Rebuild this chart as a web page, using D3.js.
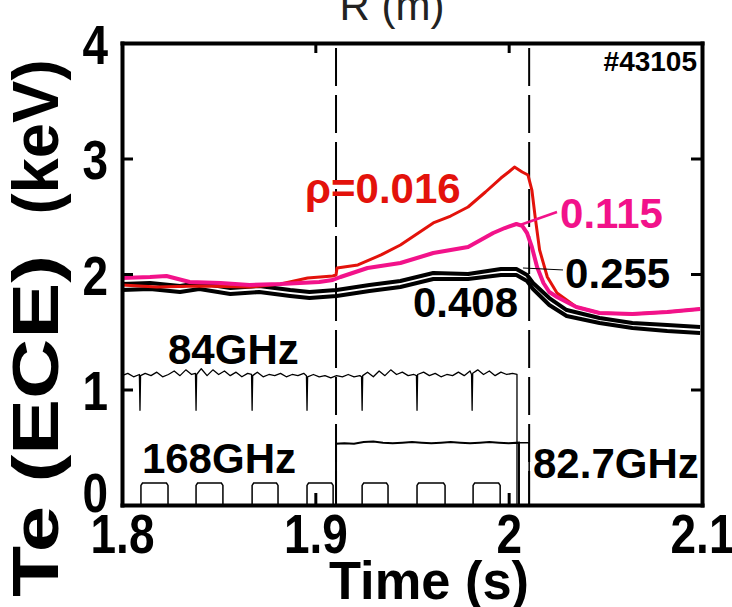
<!DOCTYPE html>
<html>
<head>
<meta charset="utf-8">
<script src="https://cdn.jsdelivr.net/npm/d3@7/dist/d3.min.js"></script>
<style>
    body { margin: 0; background: #fff; }
    svg text { font-family: "Liberation Sans", Arial, Helvetica, sans-serif; font-weight: bold; }
</style>
</head>
<body>
<div id="chart"></div>
<script>

// ---- data: [time (s), Te (keV)] ----

// rho = 0.016 (red)
let rho016 = [[1.800,1.905],[1.818,1.887],[1.840,1.896],[1.866,1.887],[1.882,1.913],[1.896,1.965],
    [1.909,1.983],[1.9107,1.991],[1.9112,2.052],[1.922,2.078],[1.934,2.165],[1.944,2.251],[1.961,2.442],
    [1.970,2.502],[1.979,2.580],[1.988,2.710],[1.996,2.831],[2.000,2.883],[2.003,2.926],[2.007,2.883],
    [2.010,2.857],[2.012,2.727],[2.0137,2.494],[2.016,2.208],[2.020,1.974],[2.025,1.835],[2.035,1.714],
    [2.047,1.662],[2.064,1.654],[2.082,1.671],[2.099,1.697]];

// rho = 0.115 (pink)
let rho115 = [[1.800,1.965],[1.8145,1.974],[1.823,1.983],[1.835,1.931],[1.851,1.922],[1.866,1.905],
    [1.882,1.913],[1.892,1.922],[1.902,1.931],[1.909,1.948],[1.913,1.974],[1.927,2.052],[1.944,2.095],
    [1.961,2.182],[1.979,2.234],[1.992,2.355],[1.998,2.398],[2.004,2.433],[2.007,2.416],[2.0095,2.355],
    [2.012,2.234],[2.0147,2.061],[2.018,1.922],[2.021,1.844],[2.025,1.801],[2.030,1.758],[2.035,1.714],
    [2.047,1.662],[2.064,1.654],[2.082,1.671],[2.099,1.697]];

// rho = 0.255 (black, upper)
let rho255 = [[1.800,1.913],[1.8145,1.922],[1.830,1.896],[1.840,1.922],[1.856,1.879],[1.871,1.896],
    [1.887,1.861],[1.897,1.844],[1.911,1.861],[1.928,1.905],[1.944,1.939],[1.961,2.009],[1.979,2.000],
    [1.996,2.043],[2.004,2.043],[2.0095,1.991],[2.0126,1.922],[2.021,1.792],[2.030,1.688],[2.047,1.619],
    [2.064,1.576],[2.082,1.558],[2.099,1.541]];

// rho = 0.408 (black, lower)
let rho408 = [[1.800,1.861],[1.8145,1.870],[1.830,1.844],[1.840,1.870],[1.856,1.827],[1.871,1.844],
    [1.887,1.810],[1.897,1.792],[1.911,1.810],[1.928,1.853],[1.944,1.887],[1.961,1.957],[1.979,1.957],
    [1.996,1.991],[2.004,1.991],[2.0095,1.939],[2.0126,1.870],[2.021,1.732],[2.030,1.636],[2.047,1.576],
    [2.064,1.532],[2.082,1.506],[2.099,1.489]];

// 84GHz gyrotron trace, with the short dips
let trace84 = [[1.800,1.12],[1.803,1.14],[1.806,1.11],[1.809,1.13],
    [1.8090,1.12],[1.8093,0.82],[1.8096,1.12],
    [1.812,1.14],[1.815,1.12],[1.818,1.15],[1.821,1.11],[1.824,1.13],[1.827,1.16],[1.830,1.12],[1.833,1.17],[1.836,1.13],
    [1.8380,1.14],[1.8383,0.82],[1.8386,1.13],
    [1.841,1.18],[1.844,1.12],[1.847,1.17],[1.850,1.13],[1.853,1.16],[1.856,1.12],[1.859,1.15],[1.862,1.11],[1.865,1.14],
    [1.8670,1.13],[1.8673,0.82],[1.8676,1.12],
    [1.870,1.15],[1.873,1.11],[1.876,1.13],[1.879,1.12],[1.882,1.14],[1.885,1.11],[1.888,1.13],[1.891,1.12],[1.894,1.14],
    [1.8954,1.12],[1.8957,0.82],[1.8960,1.11],
    [1.899,1.13],[1.902,1.11],[1.905,1.12],[1.908,1.10],[1.911,1.12],[1.914,1.11],[1.917,1.13],[1.920,1.11],[1.923,1.12],
    [1.9239,1.11],[1.9242,0.82],[1.9245,1.12],
    [1.927,1.15],[1.930,1.11],[1.933,1.16],[1.936,1.12],[1.939,1.17],[1.942,1.13],[1.945,1.15],[1.948,1.12],[1.951,1.13],
    [1.9523,1.12],[1.9526,0.82],[1.9529,1.13],
    [1.956,1.15],[1.959,1.12],[1.962,1.14],[1.965,1.11],[1.968,1.13],[1.971,1.12],[1.974,1.15],[1.977,1.12],[1.980,1.16],
    [1.9808,1.13],[1.9811,0.82],[1.9814,1.14],
    [1.984,1.17],[1.987,1.13],[1.990,1.16],[1.993,1.12],[1.996,1.15],[1.999,1.13],[2.002,1.14],[2.0043,1.13],[2.0043,0.0]];

// step power trace switched on at 1.91 s
let traceStep = [[1.800,0],[1.9107,0],[1.9107,0.530],[1.915,0.535],[1.920,0.530],[1.925,0.545],[1.930,0.550],
    [1.935,0.540],[1.940,0.535],[1.945,0.540],[1.950,0.545],[1.955,0.540],[1.960,0.535],[1.965,0.540],
    [1.970,0.545],[1.975,0.540],[1.980,0.535],[1.985,0.540],[1.990,0.545],[1.995,0.540],[2.000,0.535],
    [2.0053,0.540],[2.0053,0]];

// 82.7GHz trace
let trace827 = [[2.0053,0],[2.0053,0.54],[2.0106,0.54],[2.0106,0],[2.100,0]];

// 168GHz modulation pulses
let pulseOn = [1.8098, 1.8383, 1.8673, 1.8957, 1.9242, 1.9526, 1.9816];
let pulseOff = [1.8238, 1.8522, 1.8807, 1.9092, 1.9376, 1.9671, 1.9956];
let pulseLevel = [0.19, 0.19, 0.19, 0.19, 0.19, 0.19, 0.19];

// dashed markers
let markerTimes = [1.9107, 2.0106];

// tick values
let xTicks = [1.8, 1.9, 2.0, 2.1];
let yTicks = [0, 1, 2, 3, 4];

// ---- chart ----
let margin = {top: 43, right: 30, bottom: 102, left: 122};
let width = 732 - margin.left - margin.right;
let height = 607 - margin.top - margin.bottom;

let svg = d3.select("#chart").append("svg")
    .attr("width", 732)
    .attr("height", 607);

let g = svg.append("g")
    .attr("transform", `translate(${margin.left}, ${margin.top})`);

let x = d3.scaleLinear().domain([1.8, 2.1]).range([0, width]);
let y = d3.scaleLinear().domain([0, 4]).range([height, 0]);

let line = d3.line()
    .x(d => x(d[0]))
    .y(d => y(d[1]));

// build the pulse train from on/off times
let pulses = [[1.800, 0]];
pulseOn.forEach((t, i) => {
    pulses.push([t, 0], [t, pulseLevel[i] - 0.02], [t + 0.0008, pulseLevel[i]],
        [pulseOff[i] - 0.0008, pulseLevel[i]], [pulseOff[i], pulseLevel[i] - 0.02], [pulseOff[i], 0]);
});
pulses.push([2.0053, 0]);

// dashed vertical markers
g.selectAll(".marker")
    .data(markerTimes)
    .enter().append("line")
    .attr("class", "marker")
    .attr("x1", d => x(d)).attr("x2", d => x(d))
    .attr("y1", 5).attr("y2", height)
    .attr("stroke", "#000")
    .attr("stroke-width", 2)
    .attr("stroke-dasharray", "38,9");

// power traces
g.append("path").datum(pulses)
    .attr("d", line).attr("fill", "none").attr("stroke", "#000").attr("stroke-width", 1.5);
g.append("path").datum(traceStep)
    .attr("d", line).attr("fill", "none").attr("stroke", "#000").attr("stroke-width", 2);
g.append("path").datum(trace827)
    .attr("d", line).attr("fill", "none").attr("stroke", "#000").attr("stroke-width", 1.5);
g.append("path").datum(trace84)
    .attr("d", line).attr("fill", "none").attr("stroke", "#000").attr("stroke-width", 1.3)
    .attr("stroke-linejoin", "round");

// Te traces
let teSeries = [
    {data: rho408, color: "#000", w: 4},
    {data: rho255, color: "#000", w: 4},
    {data: rho016, color: "#e3120b", w: 3},
    {data: rho115, color: "#f2128a", w: 4}
];
g.selectAll(".te")
    .data(teSeries)
    .enter().append("path")
    .attr("class", "te")
    .attr("d", d => line(d.data))
    .attr("fill", "none")
    .attr("stroke", d => d.color)
    .attr("stroke-width", d => d.w)
    .attr("stroke-linejoin", "round");

// leader lines for labels
let leaders = [
    {from: [2.0059, 2.424], to: [2.0250, 2.537], color: "#f2128a", w: 2.5},
    {from: [2.0074, 2.052], to: [2.0281, 2.035], color: "#000", w: 1}
];
g.selectAll(".leader")
    .data(leaders)
    .enter().append("line")
    .attr("x1", d => x(d.from[0])).attr("y1", d => y(d.from[1]))
    .attr("x2", d => x(d.to[0])).attr("y2", d => y(d.to[1]))
    .attr("stroke", d => d.color)
    .attr("stroke-width", d => d.w);

// in-plot labels
let labels = [
    {text: "ρ=0.016", t: 1.8947, v: 2.615, color: "#e3120b"},
    {text: "0.115", t: 2.0266, v: 2.398, color: "#f2128a"},
    {text: "0.255", t: 2.0292, v: 1.879, color: "#000"},
    {text: "0.408", t: 1.9505, v: 1.628, color: "#000"},
    {text: "84GHz", t: 1.8238, v: 1.221, color: "#000"},
    {text: "168GHz", t: 1.8103, v: 0.277, color: "#000"},
    {text: "82.7GHz", t: 2.0126, v: 0.234, color: "#000"}
];
g.selectAll(".label")
    .data(labels)
    .enter().append("text")
    .attr("x", d => x(d.t))
    .attr("y", d => y(d.v))
    .attr("fill", d => d.color)
    .style("font-size", "42px")
    .text(d => d.text);

g.append("text")
    .attr("x", width - 5).attr("y", 28)
    .attr("text-anchor", "end")
    .style("font-size", "28px")
    .text("#43105");

// axes (frame with inward ticks)
let xAxisB = d3.axisBottom(x).tickValues(xTicks).tickSizeInner(-12).tickSizeOuter(0).tickFormat(d3.format(""));
let xAxisT = d3.axisTop(x).tickValues([1.9, 2.0]).tickSizeInner(-10).tickSizeOuter(0).tickFormat("");
let yAxisL = d3.axisLeft(y).tickValues(yTicks).tickSizeInner(-11).tickSizeOuter(0).tickFormat(d3.format("d"));
let yAxisR = d3.axisRight(y).tickValues([1, 2, 3]).tickSizeInner(-11).tickSizeOuter(0).tickFormat("");

let gB = g.append("g").attr("transform", `translate(0, ${height})`).call(xAxisB);
let gT = g.append("g").call(xAxisT);
let gL = g.append("g").call(yAxisL);
let gR = g.append("g").attr("transform", `translate(${width}, 0)`).call(yAxisR);

[gB, gT, gL, gR].forEach(a => {
    a.select(".domain").attr("stroke-width", 4).attr("stroke-linecap", "square");
    a.selectAll(".tick line").attr("stroke-width", 3);
});

gB.selectAll(".tick text")
    .attr("y", 48).attr("dy", null)
    .attr("transform", "scale(0.82,1)")
    .style("font-size", "56px")
    .attr("fill", "#000");

gL.selectAll(".tick text")
    .attr("x", -14 / 0.82)
    .attr("y", d => d === 0 ? 6 : 20).attr("dy", null)
    .attr("transform", "scale(0.82,1)")
    .style("font-size", "56px")
    .attr("fill", "#000");

// axis titles
svg.append("text")
    .attr("x", 429).attr("y", 599)
    .attr("text-anchor", "middle")
    .attr("textLength", 200).attr("lengthAdjust", "spacingAndGlyphs")
    .style("font-size", "54px")
    .text("Time (s)");

svg.append("text")
    .attr("transform", "translate(58, 426) rotate(-90)")
    .attr("text-anchor", "middle")
    .attr("textLength", 342).attr("lengthAdjust", "spacingAndGlyphs")
    .style("font-size", "64px")
    .text("Te (ECE)");

svg.append("text")
    .attr("transform", "translate(58, 137) rotate(-90)")
    .attr("text-anchor", "middle")
    .attr("textLength", 155).attr("lengthAdjust", "spacingAndGlyphs")
    .style("font-size", "64px")
    .text("(keV)");

svg.append("text")
    .attr("x", 392).attr("y", 20)
    .attr("text-anchor", "middle")
    .attr("fill", "#222")
    .style("font-size", "42px")
    .style("font-weight", "normal")
    .text("R (m)");

</script>
</body>
</html>
